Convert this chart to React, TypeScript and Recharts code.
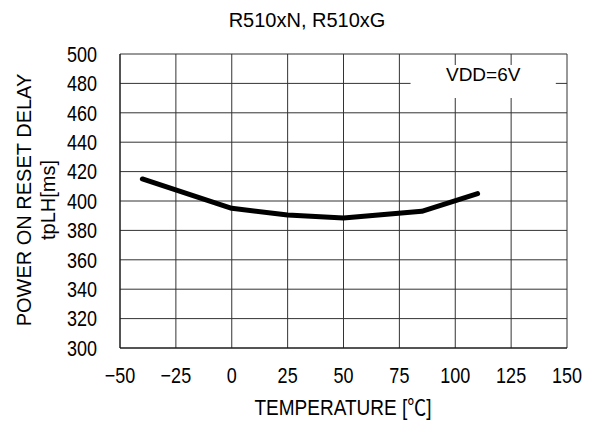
import { LineChart, Line, XAxis, YAxis, CartesianGrid, ReferenceArea } from 'recharts'

const temperatures = [-40, 0, 25, 50, 85, 110]
const delays = [415, 395, 390.5, 388.5, 393, 405]
const xTicks = [-50, -25, 0, 25, 50, 75, 100, 125, 150]
const yTicks = [300, 320, 340, 360, 380, 400, 420, 440, 460, 480, 500]

const chartTitle = 'R510xN, R510xG'
const xTitle = 'TEMPERATURE [℃]'
const yTitle = ['POWER ON RESET DELAY', 'tpLH[ms]']
const condition = 'VDD=6V'

const data = temperatures.map((t, i) => ({ temp: t, delay: delays[i] }))

const FONT = '"Liberation Sans", Arial, "Noto Sans CJK JP", sans-serif'
const STRETCH = 1.2

// the source uses a tall, narrow gothic face, so stretch text vertically
function XTick({ x, y, payload }: any) {
  const v: number = payload.value
  const label = v < 0 ? `\u2212${Math.abs(v)}` : String(v)
  return (
    <g transform={`translate(${x},${y + 16}) scale(1,${STRETCH})`}>
      <text x={0} y={0} textAnchor="middle" fill="#000" fontSize={18} fontFamily={FONT}>
        {label}
      </text>
    </g>
  )
}

function YTick({ x, y, payload }: any) {
  return (
    <g transform={`translate(${x},${y + 7.7}) scale(1,${STRETCH})`}>
      <text x={0} y={0} textAnchor="end" fill="#000" fontSize={18} fontFamily={FONT}>
        {payload.value}
      </text>
    </g>
  )
}

const overlay = {
  position: 'absolute' as const,
  lineHeight: 1,
  whiteSpace: 'nowrap' as const,
  fontFamily: FONT,
  color: '#000',
}

export default function App() {
  return (
    <div style={{ position: 'absolute', left: 0, top: 0, width: 592, height: 421, background: '#fff' }}>
      <LineChart
        width={592}
        height={421}
        data={data}
        margin={{ top: 54, right: 25, left: 0, bottom: 0 }}
      >
        <CartesianGrid stroke="#333" strokeWidth={1} />
        <XAxis
          dataKey="temp"
          type="number"
          domain={[-50, 150]}
          ticks={xTicks}
          height={73}
          tickLine={false}
          tickSize={0}
          tickMargin={19}
          axisLine={{ stroke: '#111' }}
          tick={<XTick />}
        />
        <YAxis
          type="number"
          domain={[300, 500]}
          ticks={yTicks}
          width={120}
          tickLine={false}
          tickSize={0}
          tickMargin={23}
          axisLine={{ stroke: '#111' }}
          tick={<YTick />}
        />
        <ReferenceArea
          x1={80}
          x2={145}
          y1={470}
          y2={492.5}
          fill="#fff"
          fillOpacity={1}
          stroke="none"
          label={{
            value: condition,
            position: 'insideTop',
            offset: 2,
            fill: '#000',
            fontSize: 19,
            fontFamily: FONT,
          }}
        />
        <Line
          type="linear"
          dataKey="delay"
          stroke="#000"
          strokeWidth={5}
          strokeLinecap="round"
          strokeLinejoin="round"
          dot={false}
          activeDot={false}
          isAnimationActive={false}
        />
      </LineChart>

      <div style={{ ...overlay, left: 307, top: 20, fontSize: 20, transform: 'translate(-50%,-50%)' }}>
        {chartTitle}
      </div>
      <div style={{ ...overlay, left: 343, top: 408, fontSize: 19, transform: `translate(-50%,-50%) scaleY(1.15)` }}>
        {xTitle}
      </div>
      <div
        style={{
          ...overlay,
          left: 36,
          top: 200,
          fontSize: 20,
          lineHeight: '24px',
          textAlign: 'center',
          transform: 'translate(-50%,-50%) rotate(-90deg)',
        }}
      >
        {yTitle[0]}
        <br />
        {yTitle[1]}
      </div>
    </div>
  )
}
